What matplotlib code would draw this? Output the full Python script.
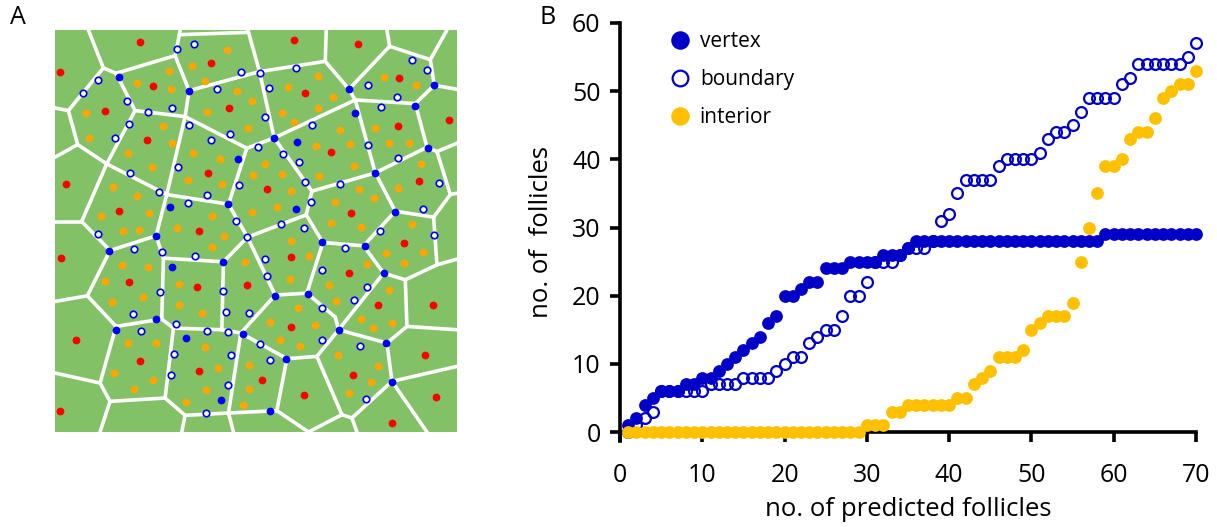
import matplotlib
matplotlib.use("Agg")
import matplotlib.pyplot as plt
from matplotlib.collections import LineCollection
import numpy as np

plt.rcParams['font.family'] = ['Open Sans', 'DejaVu Sans']

# ---------------------------------------------------------------
# Panel A: tessellation of the imaged field (image pixel coordinates)
# ---------------------------------------------------------------
field_x = (165, 1370)
field_y = (90, 1297)

nodes = {
    'T1': (265, 90), 'T2': (540, 90), 'T3': (745, 90), 'T4': (978, 90),
    'T5': (1160, 90), 'T6': (1340, 90),
    'L1': (165, 324), 'L2': (165, 472), 'L3': (165, 665), 'L4': (165, 905), 'L5': (165, 1120),
    'R1': (1370, 268), 'R2': (1370, 430), 'R3': (1370, 580), 'R4': (1370, 778),
    'R5': (1370, 990), 'R6': (1370, 1100),
    'B1': (300, 1297), 'B2': (545, 1297), 'B3': (700, 1297), 'B4': (925, 1297),
    'B5': (1070, 1297), 'B6': (1280, 1297),
    'a': (310, 204), 'b': (205, 332), 'c': (233, 434), 'd': (320, 492), 'q': (348, 220),
    'r': (525, 167), 'e': (538, 104), 'f': (745, 97), 'u': (567, 272), 's': (405, 332),
    't': (555, 350), 'v': (778, 215), 'w': (975, 184), 'g': (1046, 268), 'h': (1168, 139),
    'i': (1290, 179), 'j': (1302, 256), 'k': (1065, 300), 'm': (1245, 311), 'n': (1280, 442),
    'o': (1310, 455), 'p': (1350, 584),
    'x1': (822, 414), 'x2': (740, 445), 'x3': (685, 613), 'x4': (500, 584), 'x5': (1125, 519),
    'x6': (935, 574), 'x7': (918, 645), 'x8': (742, 712), 'x9': (1185, 634), 'x10': (1300, 652),
    'x11': (1310, 795), 'x12': (1215, 840), 'x13': (1150, 820), 'x14': (1090, 738),
    'x15': (968, 728), 'x16': (920, 880), 'x17': (825, 886), 'x18': (670, 786), 'x19': (490, 775),
    'x20': (468, 708), 'x21': (330, 752), 'x22': (245, 665), 'x23': (262, 888), 'x24': (348, 980),
    'x25': (485, 958), 'x26': (520, 985), 'x27': (665, 990), 'x28': (722, 1000), 'x29': (860, 1077),
    'x30': (950, 1070), 'x31': (1005, 952), 'x32': (1015, 990), 'x33': (1160, 1030),
    'x34': (1220, 980), 'x35': (1175, 1145), 'x36': (1055, 1255), 'x37': (1025, 1245),
    'x38': (830, 1233), 'x39': (685, 1240), 'x40': (555, 1247), 'x41': (495, 1195),
    'x42': (330, 1205), 'x43': (300, 1150),
}

edges = [
    ('T1', 'a'), ('a', 'b'), ('b', 'L1'), ('b', 'c'), ('c', 'L2'), ('c', 'd'), ('a', 'q'),
    ('q', 'r'), ('q', 's'), ('s', 'd'), ('s', 't'), ('r', 'e'), ('e', 'T2'), ('e', 'f'),
    ('f', 'T3'), ('f', 'v'), ('r', 'u'), ('u', 't'), ('u', 'v'), ('v', 'w'), ('v', 'x1'),
    ('w', 'T4'), ('w', 'g'), ('g', 'h'), ('h', 'T5'), ('h', 'i'), ('i', 'T6'), ('i', 'j'),
    ('j', 'R1'), ('j', 'm'), ('m', 'k'), ('m', 'n'), ('g', 'k'), ('k', 'x1'), ('k', 'x5'),
    ('n', 'o'), ('o', 'R2'), ('o', 'p'), ('p', 'R3'), ('p', 'x10'), ('n', 'x5'),
    ('t', 'x2'), ('t', 'x4'), ('x2', 'x1'), ('x2', 'x3'), ('x1', 'x6'), ('x6', 'x5'),
    ('x6', 'x7'), ('x7', 'x8'), ('x7', 'x15'), ('x3', 'x4'), ('x3', 'x8'), ('x4', 'd'),
    ('x4', 'x20'), ('d', 'x22'),
    ('x5', 'x9'), ('x9', 'x10'), ('x9', 'x14'), ('x10', 'x11'), ('x11', 'R4'), ('x11', 'x12'),
    ('x12', 'x13'), ('x12', 'x34'), ('x13', 'x14'), ('x13', 'x32'), ('x14', 'x15'),
    ('x15', 'x16'), ('x16', 'x17'), ('x16', 'x31'), ('x31', 'x32'), ('x8', 'x17'), ('x8', 'x18'),
    ('x18', 'x19'), ('x18', 'x27'), ('x19', 'x20'), ('x19', 'x25'), ('x20', 'x21'),
    ('x21', 'x22'), ('x22', 'L3'), ('x21', 'x23'), ('x23', 'L4'), ('x23', 'x24'),
    ('x24', 'x25'), ('x24', 'x43'), ('x25', 'x26'), ('x26', 'x27'), ('x26', 'x41'),
    ('x27', 'x28'), ('x28', 'x17'), ('x28', 'x29'), ('x28', 'x39'),
    ('x29', 'x30'), ('x29', 'x38'), ('x30', 'x32'), ('x30', 'x37'), ('x32', 'x33'),
    ('x33', 'x34'), ('x34', 'R5'), ('x33', 'x35'), ('x35', 'R6'), ('x35', 'B6'), ('x35', 'x36'),
    ('x36', 'B5'), ('x36', 'x37'), ('x37', 'B4'), ('x38', 'B4'), ('x38', 'x39'), ('x39', 'B3'),
    ('x39', 'x40'), ('x40', 'B2'), ('x40', 'x41'), ('x41', 'x42'), ('x42', 'B1'),
    ('x42', 'x43'), ('x43', 'L5'),
]

# follicle positions, grouped by location class
seed_xy = [
    (420, 125), (880, 120), (1072, 133), (180, 217), (632, 188), (458, 258), (1196, 233),
    (315, 334), (688, 323), (913, 280), (1345, 360), (440, 420), (1192, 378), (993, 456),
    (625, 518), (198, 553), (800, 568), (1255, 542), (358, 634), (1053, 640), (598, 694),
    (1210, 729), (182, 775), (873, 772), (387, 846), (592, 861), (740, 856), (1045, 821),
    (1133, 916), (1298, 916), (229, 1022), (873, 981), (420, 1085), (1273, 1067), (598, 1114),
    (785, 1141), (1058, 1125), (910, 1185), (1308, 1192), (180, 1235), (1175, 1271),
]

interior_xy = [
    (680, 150), (575, 198), (507, 212), (410, 250), (615, 243), (512, 268), (1150, 230),
    (1248, 255), (258, 340), (268, 413), (620, 337), (710, 272), (755, 303), (862, 262),
    (952, 228), (998, 292), (952, 323), (845, 340), (882, 365), (745, 383), (490, 378),
    (515, 430), (383, 460), (457, 500), (580, 460), (660, 477), (565, 540), (665, 553),
    (795, 492), (760, 525), (845, 522), (873, 572), (830, 622), (755, 635), (1018, 390),
    (1125, 385), (1050, 432), (1165, 430), (1225, 428), (947, 437), (1060, 498), (957, 527),
    (1263, 493), (1193, 565), (1075, 568), (1120, 593), (1005, 607), (993, 668), (1082, 682),
    (338, 560), (410, 587), (303, 647), (447, 640), (368, 692), (418, 690), (637, 648),
    (532, 683), (672, 708), (635, 743), (1235, 672), (1158, 760), (1268, 758), (1210, 790),
    (873, 725), (925, 770), (870, 838), (735, 788), (1100, 793), (985, 857), (1008, 905),
    (1165, 870), (1083, 957), (1175, 970), (1118, 985), (365, 797), (445, 802), (315, 845),
    (428, 892), (337, 908), (537, 852), (538, 915), (605, 940), (893, 925), (810, 967),
    (943, 975), (838, 1022), (900, 1040), (385, 1030), (467, 1030), (343, 1120), (458, 1140),
    (403, 1167), (615, 1043), (655, 1105), (617, 1170), (557, 1208), (748, 1097), (747, 1168),
    (730, 1215), (1013, 1065), (1132, 1098), (1113, 1147), (1045, 1180),
]

vertex_xy = [
    (358, 232), (567, 273), (1046, 268), (1300, 255), (1065, 339), (1245, 318), (820, 415),
    (890, 425), (715, 478), (1125, 518), (1283, 443), (685, 612), (509, 622), (887, 628),
    (1183, 635), (469, 708), (328, 755), (966, 728), (1093, 740), (670, 787), (515, 802),
    (1152, 820), (825, 888), (922, 882), (469, 957), (348, 990), (1015, 990), (558, 1015),
    (730, 1003), (1158, 1030), (858, 1077), (1175, 1148), (663, 1202), (808, 1233),
]

boundary_xy = [
    (530, 148), (582, 133), (723, 215), (778, 218), (888, 203), (1236, 179), (1281, 210),
    (293, 240), (250, 280), (652, 268), (806, 265), (1103, 254), (1190, 292), (380, 303),
    (443, 337), (515, 323), (1143, 322), (567, 375), (793, 350), (387, 371), (345, 413),
    (690, 403), (633, 420), (935, 375), (772, 440), (1103, 436), (848, 462), (897, 487),
    (1193, 473), (390, 520), (535, 500), (718, 555), (913, 547), (1020, 553), (1315, 550),
    (478, 577), (620, 585), (565, 610), (933, 605), (1268, 628), (708, 663), (843, 672),
    (910, 683), (1140, 693), (742, 712), (1302, 705), (293, 703), (403, 748), (487, 758),
    (586, 768), (1033, 745), (795, 777), (966, 810), (800, 828), (1100, 862), (480, 878),
    (668, 873), (1062, 902), (678, 937), (748, 940), (398, 943), (965, 925), (527, 972),
    (620, 993), (683, 996), (966, 1022), (423, 993), (780, 1032), (1080, 1040), (523, 1062),
    (692, 1067), (808, 1080), (513, 1125), (683, 1155), (1098, 1197), (617, 1240),
]

# ---------------------------------------------------------------
# Panel B: cumulative counts against number of predicted follicles
# ---------------------------------------------------------------
predicted = list(range(1, 71))
vertex_counts = [1, 2, 4, 5, 6, 6, 6, 7, 7, 8, 8, 9, 10, 11, 12, 13, 14, 16, 17, 20,
                 20, 21, 22, 22, 24, 24, 24, 25, 25, 25, 25, 26, 26, 26, 27] + [28] * 23 + [29] * 12
boundary_counts = [0, 1, 2, 3, 6, 6, 6, 6, 6, 6, 7, 7, 7, 7, 8, 8, 8, 8, 9, 10,
                   11, 11, 13, 14, 15, 15, 17, 20, 20, 22, 25, 25, 25, 26, 27, 27, 27, 28, 31, 32,
                   35, 37, 37, 37, 37, 39, 40, 40, 40, 40, 41, 43, 44, 44, 45, 47, 49, 49, 49, 49,
                   51, 52, 54, 54, 54, 54, 54, 54, 55, 57]
interior_counts = [0] * 29 + [1, 1, 1, 3, 3, 4, 4, 4, 4, 4, 4, 5, 5, 7, 8, 9, 11, 11, 11, 12,
                              15, 16, 17, 17, 17, 19, 25, 30, 35, 39, 39, 40, 43, 44, 44, 46,
                              49, 50, 51, 51, 53]
series_labels = ['vertex', 'boundary', 'interior']
x_ticks = [0, 10, 20, 30, 40, 50, 60, 70]
y_ticks = [0, 10, 20, 30, 40, 50, 60]

# ---------------------------------------------------------------
GREEN = '#83C167'
RED = '#FF0000'
ORANGE = '#FFA500'
BLUE_A = '#0000FF'
BLUE_B = '#0000C8'
YELLOW = '#FFC000'

W, H, DPI = 1217, 527, 100
fig = plt.figure(figsize=(W / DPI, H / DPI), dpi=DPI)

# ----- panel A
axA = fig.add_axes([55 / W, 1 - 432 / H, 402 / W, 402 / H])
axA.set_facecolor(GREEN)
segs = [[nodes[p], nodes[q]] for p, q in edges]
axA.add_collection(LineCollection(segs, colors='white', linewidths=2.6,
                                  capstyle='round', joinstyle='round', zorder=1))


def pts(xy):
    arr = np.asarray(xy, dtype=float)
    return arr[:, 0], arr[:, 1]


ax_, ay_ = pts(seed_xy)
axA.plot(ax_, ay_, 'o', ms=5.6, mfc=RED, mec='none', zorder=3)
ax_, ay_ = pts(interior_xy)
axA.plot(ax_, ay_, 'o', ms=5.6, mfc=ORANGE, mec='none', zorder=3)
ax_, ay_ = pts(vertex_xy)
axA.plot(ax_, ay_, 'o', ms=5.6, mfc=BLUE_A, mec='none', zorder=3)
ax_, ay_ = pts(boundary_xy)
axA.plot(ax_, ay_, 'o', ms=4.7, mfc='white', mec=BLUE_A, mew=1.2, zorder=3)
axA.set_xlim(*field_x)
axA.set_ylim(field_y[1], field_y[0])
axA.set_xticks([])
axA.set_yticks([])
for sp in axA.spines.values():
    sp.set_visible(False)

fig.text(18 / W, 1 - 18 / H, 'A', fontsize=18, ha='center', va='center')
fig.text(548 / W, 1 - 18 / H, 'B', fontsize=18, ha='center', va='center')

# ----- panel B
axB = fig.add_axes([620 / W, 1 - 441 / H, 576 / W, 418 / H])
axB.plot(predicted, boundary_counts, 'o', ls='none', ms=7.8, mfc='none', mec=BLUE_B,
         mew=1.6, clip_on=False, zorder=3, label=series_labels[1])
axB.plot(predicted, vertex_counts, 'o', ls='none', ms=9.2, mfc=BLUE_B, mec='none',
         clip_on=False, zorder=4, label=series_labels[0])
axB.plot(predicted, interior_counts, 'o', ls='none', ms=9.2, mfc=YELLOW, mec='none',
         clip_on=False, zorder=5, label=series_labels[2])

axB.set_xlim(0, 70)
axB.set_ylim(-1.3, 60)
axB.spines['top'].set_visible(False)
axB.spines['right'].set_visible(False)
axB.spines['bottom'].set_position(('data', 0))
for sp in ('left', 'bottom'):
    axB.spines[sp].set_linewidth(2.6)
    axB.spines[sp].set_capstyle('projecting')
axB.set_xticks(x_ticks)
axB.set_yticks(y_ticks)
axB.tick_params(axis='both', direction='out', length=7, width=2.6, labelsize=18)
axB.tick_params(axis='x', pad=15)
axB.tick_params(axis='y', pad=7)
axB.set_xlabel('no. of predicted follicles', fontsize=18.5, labelpad=0)
axB.set_ylabel('no. of  follicles', fontsize=18.5, labelpad=13)
axB.xaxis.set_label_coords(0.5, -0.133)

handles, labels = axB.get_legend_handles_labels()
order = [1, 0, 2]
axB.legend([handles[i] for i in order], [labels[i] for i in order],
           loc='upper left', bbox_to_anchor=(0.068, 1.0), frameon=False,
           fontsize=15, markerscale=1.45, handletextpad=0.35, labelspacing=0.82,
           handlelength=1.2, borderaxespad=0)

fig.savefig('out.png', dpi=DPI)
